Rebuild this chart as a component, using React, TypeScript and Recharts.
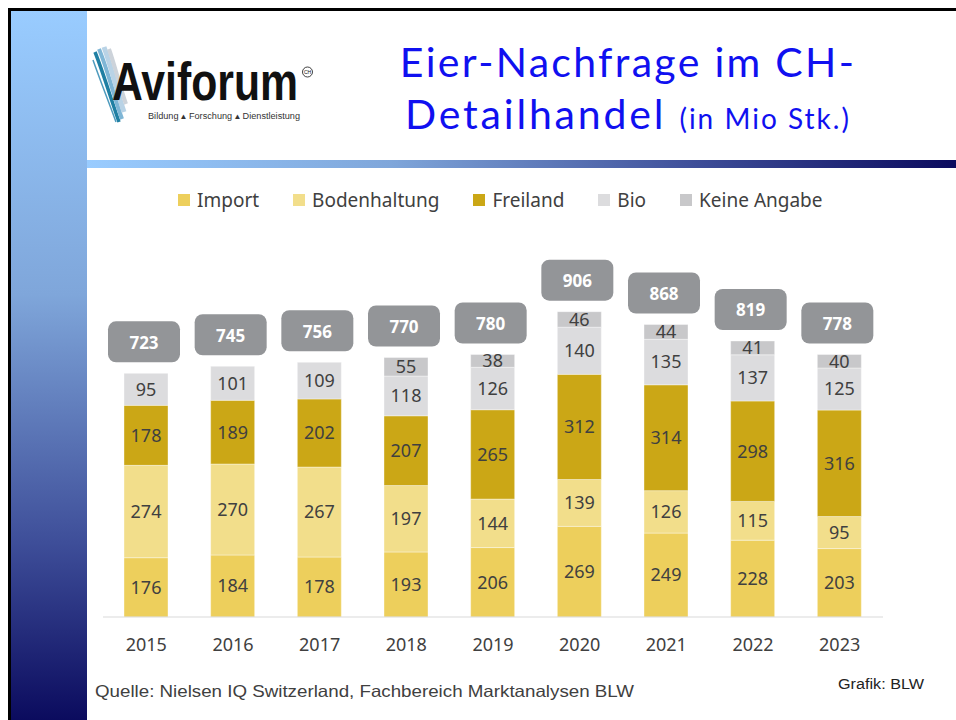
import { Bar, BarChart, LabelList, Legend, XAxis, YAxis } from 'recharts';

const YEARS = ['2015', '2016', '2017', '2018', '2019', '2020', '2021', '2022', '2023'];
const IMPORT = [176, 184, 178, 193, 206, 269, 249, 228, 203];
const BODENHALTUNG = [274, 270, 267, 197, 144, 139, 126, 115, 95];
const FREILAND = [178, 189, 202, 207, 265, 312, 314, 298, 316];
const BIO = [95, 101, 109, 118, 126, 140, 135, 137, 125];
const KEINE_ANGABE = [0, 0, 0, 55, 38, 46, 44, 41, 40];
const TOTALS = [723, 745, 756, 770, 780, 906, 868, 819, 778];

const SERIES = [
  { key: 'import', name: 'Import', color: '#EDCF5C' },
  { key: 'boden', name: 'Bodenhaltung', color: '#F2DE8B' },
  { key: 'freiland', name: 'Freiland', color: '#CBA716' },
  { key: 'bio', name: 'Bio', color: '#DCDCDE' },
  { key: 'keine', name: 'Keine Angabe', color: '#C8C8CA' },
];

const data = YEARS.map((year, i) => ({
  year,
  import: IMPORT[i],
  boden: BODENHALTUNG[i],
  freiland: FREILAND[i],
  bio: BIO[i],
  keine: KEINE_ANGABE[i],
  total: TOTALS[i],
}));

const FONT = '"Noto Sans", "Open Sans", sans-serif';
const TEXT = '#404040';

// grey rounded box with the year total, sitting above the top segment
function TotalBox(props: any) {
  const { x, y, width, value } = props;
  const cx = x + width / 2 - 2;
  const bottom = y - 11;
  return (
    <g>
      <rect x={cx - 36} y={bottom - 41} width={72} height={41} rx={8} fill="#939598" />
      <text
        x={cx}
        y={bottom - 20}
        textAnchor="middle"
        dominantBaseline="central"
        fill="#fff"
        fontSize={17}
        fontWeight={700}
        fontFamily={FONT}
      >
        {value}
      </text>
    </g>
  );
}

// years without "Keine Angabe" get their box from the Bio segment
function TotalBoxOnBio(props: any) {
  if (KEINE_ANGABE[props.index] > 0) return null;
  return <TotalBox {...props} />;
}

function LegendRow() {
  return (
    <div style={{ display: 'flex', alignItems: 'center', gap: 34, fontFamily: FONT }}>
      {SERIES.map((s) => (
        <div key={s.key} style={{ display: 'flex', alignItems: 'center' }}>
          <span style={{ width: 12, height: 12, background: s.color, marginRight: 7, display: 'inline-block' }} />
          <span style={{ fontSize: 19, color: TEXT, lineHeight: '24px' }}>{s.name}</span>
        </div>
      ))}
    </div>
  );
}

function Logo() {
  return (
    <g>
      <path d="M95 52 C103 72 110 96 119 122" stroke="#1F7FA3" strokeWidth={3.5} fill="none" />
      <path d="M99 49 C107 68 113 93 122 119" stroke="#7FB6D6" strokeWidth={4} fill="none" />
      <path d="M104 47 C111 66 116 88 124 112" stroke="#B9D3E6" strokeWidth={5} fill="none" />
      <path d="M109 49 C115 66 119 84 126 104" stroke="#CDD3DA" strokeWidth={4} fill="none" />
      <path d="M93 60 C100 80 108 100 116 122" stroke="#4E9BBE" strokeWidth={1.5} fill="none" />
      <text
        x={112}
        y={100}
        fontSize={53}
        fontWeight={700}
        fontFamily='"Liberation Sans Narrow", "Liberation Sans", Arial, sans-serif'
        textLength={186}
        lengthAdjust="spacingAndGlyphs"
        fill="#111"
      >
        Aviforum
      </text>
      <circle cx={307.5} cy={72} r={5} fill="none" stroke="#111" strokeWidth={0.8} />
      <text x={307.5} y={74} fontSize={5} textAnchor="middle" fontFamily="Liberation Sans" fill="#111">
        CH
      </text>
      <text
        x={148}
        y={118.5}
        fontSize={8.5}
        fontFamily='"Liberation Sans", Arial, sans-serif'
        textLength={152}
        lengthAdjust="spacingAndGlyphs"
        fill="#333"
      >
        Bildung ▴ Forschung ▴ Dienstleistung
      </text>
    </g>
  );
}

export default function App() {
  return (
    <div
      style={{
        position: 'absolute',
        left: 0,
        top: 0,
        width: 956,
        height: 720,
        overflow: 'hidden',
        background: '#fff',
      }}
    >
      <div style={{ position: 'absolute', left: 8, top: 8, right: 0, height: 3, background: '#000' }} />
      <div style={{ position: 'absolute', left: 8, top: 8, bottom: 0, width: 3, background: '#000' }} />
      <div
        style={{
          position: 'absolute',
          left: 11,
          top: 11,
          width: 76,
          bottom: 0,
          background: 'linear-gradient(to bottom, #99CCFF 0%, #7FA6DA 40%, #3E4E99 75%, #0B0B5E 100%)',
        }}
      />
      <div
        style={{
          position: 'absolute',
          left: 87,
          top: 160,
          right: 0,
          height: 8,
          background: 'linear-gradient(to right, #99CCFF 0%, #7FA6DA 35%, #3E4E99 70%, #0B0B5E 100%)',
        }}
      />
      <div
        style={{
          position: 'absolute',
          left: 300,
          width: 656,
          top: 36,
          textAlign: 'center',
          color: '#1010F0',
          fontFamily: 'Lato, "Open Sans", sans-serif',
          fontWeight: 400,
          fontSize: 41,
          letterSpacing: 2.3,
          lineHeight: '52px',
        }}
      >
        <div>Eier-Nachfrage im CH-</div>
        <div style={{ letterSpacing: 2.8 }}>
          Detailhandel <span style={{ fontSize: 28, letterSpacing: 2 }}>(in Mio Stk.)</span>
        </div>
      </div>
      <svg width={956} height={720} style={{ position: 'absolute', left: 0, top: 0 }}>
        <Logo />
        <text
          x={95}
          y={697}
          fontSize={16.5}
          fill={TEXT}
          fontFamily='"Liberation Sans", Arial, sans-serif'
          textLength={539}
          lengthAdjust="spacingAndGlyphs"
        >
          Quelle: Nielsen IQ Switzerland, Fachbereich Marktanalysen BLW
        </text>
        <text
          x={838}
          y={689}
          fontSize={14}
          fill="#222"
          fontFamily='"Liberation Sans", Arial, sans-serif'
          textLength={86}
          lengthAdjust="spacingAndGlyphs"
        >
          Grafik: BLW
        </text>
      </svg>
      <div style={{ position: 'absolute', left: 0, top: 0 }}>
        <BarChart
          width={956}
          height={720}
          data={data}
          margin={{ top: 280, right: 73, bottom: 53, left: 103 }}
          style={{ fontFamily: FONT }}
        >
          <XAxis
            dataKey="year"
            axisLine={{ stroke: '#D9D9D9' }}
            tickLine={false}
            tickSize={0}
            tickMargin={21}
            height={50}
            tick={{ fill: TEXT, fontSize: 18, fontFamily: FONT }}
          />
          <YAxis hide domain={[0, 1000]} />
          <Legend
            verticalAlign="middle"
            align="center"
            layout="horizontal"
            content={<LegendRow />}
            wrapperStyle={{ top: 188, left: 178, width: 700 }}
          />
          {SERIES.map((s) => (
            <Bar
              key={s.key}
              dataKey={s.key}
              name={s.name}
              stackId="eggs"
              fill={s.color}
              stroke="#ffffff"
              strokeOpacity={0.5}
              strokeWidth={0.75}
              barSize={44}
              isAnimationActive={false}
            >
              <LabelList
                dataKey={s.key}
                position="center"
                fill={TEXT}
                fontSize={18}
                fontFamily={FONT}
                formatter={(v: any) => (v ? v : '')}
              />
              {s.key === 'bio' && <LabelList dataKey="total" content={<TotalBoxOnBio />} />}
              {s.key === 'keine' && <LabelList dataKey="total" content={<TotalBox />} />}
            </Bar>
          ))}
        </BarChart>
      </div>
    </div>
  );
}
